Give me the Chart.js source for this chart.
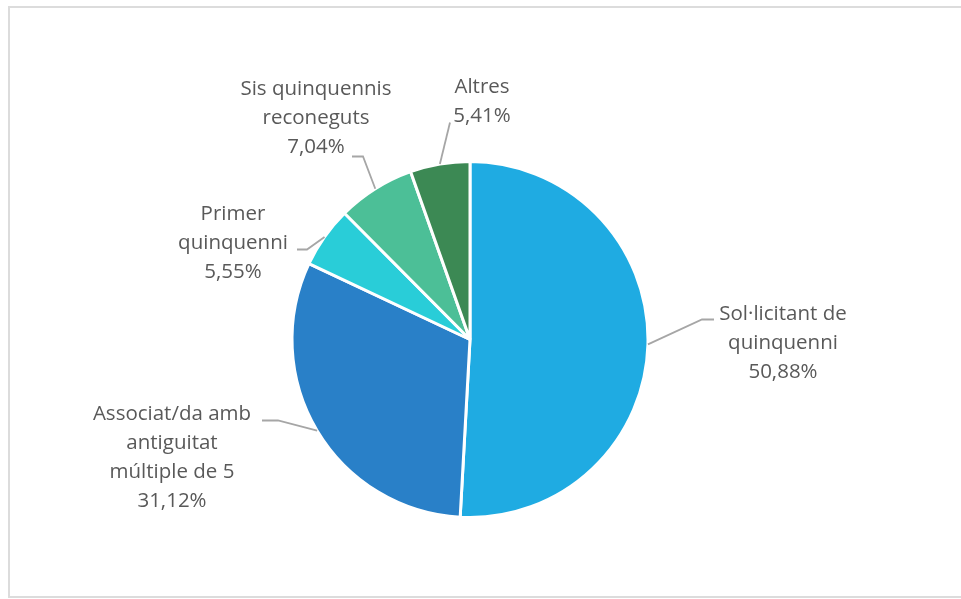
<!DOCTYPE html>
<html>
<head>
<meta charset="utf-8">
<script src="https://cdn.jsdelivr.net/npm/chart.js@4"></script>
<style>
  body { margin: 0; background: #fff; overflow: hidden; }
  #wrap { position: relative; width: 961px; height: 599px; overflow: hidden; }
  #frame { position: absolute; left: 8px; top: 6px; width: 1000px; height: 588px; border: 2px solid #dcdcdc; }
  canvas { position: absolute; left: 0; top: 0; }
</style>
</head>
<body>
<div id="wrap">
  <div id="frame"></div>
  <canvas id="chart"></canvas>
</div>
<script>
// data
var categories = ['Sol·licitant de quinquenni', 'Associat/da amb antiguitat múltiple de 5', 'Primer quinquenni', 'Sis quinquennis reconeguts', 'Altres'];
var labelLines = [
    ['Sol·licitant de', 'quinquenni'],
    ['Associat/da amb', 'antiguitat', 'múltiple de 5'],
    ['Primer', 'quinquenni'],
    ['Sis quinquennis', 'reconeguts'],
    ['Altres']
];
var percents = [50.88, 31.12, 5.55, 7.04, 5.41];
var colors = ['#1FABE2', '#2980C8', '#29CDD8', '#4CBF97', '#3C8954'];

// label placement, relative to the pie centre: text centre x, first line y, elbow and end of leader
var labelPlace = [
    { tx: 313, ty: -25, elbow: [232, -20], end: [244, -20] },
    { tx: -298, ty: 75, elbow: [-192, 81], end: [-208, 81] },
    { tx: -237, ty: -125, elbow: [-163, -90], end: [-173, -90] },
    { tx: -154, ty: -250, elbow: [-107, -183], end: [-118, -183] },
    { tx: 12, ty: -252, elbow: [-20, -217], end: [-20, -217] }
];

var labelPlugin = {
    id: 'outsideLabels',
    afterDatasetsDraw: function (chart) {
        var ctx = chart.ctx;
        var meta = chart.getDatasetMeta(0);
        ctx.save();
        ctx.font = '20.5px "Open Sans", sans-serif';
        ctx.textAlign = 'center';
        ctx.textBaseline = 'middle';
        meta.data.forEach(function (arc, i) {
            var p = labelPlace[i];
            var mid = (arc.startAngle + arc.endAngle) / 2;
            var sx = arc.x + Math.cos(mid) * arc.outerRadius;
            var sy = arc.y + Math.sin(mid) * arc.outerRadius;

            ctx.strokeStyle = '#a6a6a6';
            ctx.lineWidth = 1.8;
            ctx.beginPath();
            ctx.moveTo(sx, sy);
            ctx.lineTo(arc.x + p.elbow[0], arc.y + p.elbow[1]);
            ctx.lineTo(arc.x + p.end[0], arc.y + p.end[1]);
            ctx.stroke();

            var lines = labelLines[i].concat([percents[i].toFixed(2).replace('.', ',') + '%']);
            ctx.fillStyle = '#595959';
            lines.forEach(function (line, j) {
                ctx.fillText(line, arc.x + p.tx, arc.y + p.ty + j * 29);
            });
        });
        ctx.restore();
    }
};

var ctx = document.getElementById('chart').getContext('2d');
var chart = new Chart(ctx, {
    type: 'pie',
    data: {
        labels: categories,
        datasets: [{
            data: percents,
            backgroundColor: colors,
            borderColor: '#ffffff',
            borderWidth: 3
        }]
    },
    options: {
        responsive: true,
        maintainAspectRatio: false,
        animation: false,
        layout: {
            padding: { left: 290, right: 311, top: 160, bottom: 80 }
        },
        plugins: {
            legend: { display: false },
            tooltip: { enabled: false }
        }
    },
    plugins: [labelPlugin]
});
</script>
</body>
</html>
